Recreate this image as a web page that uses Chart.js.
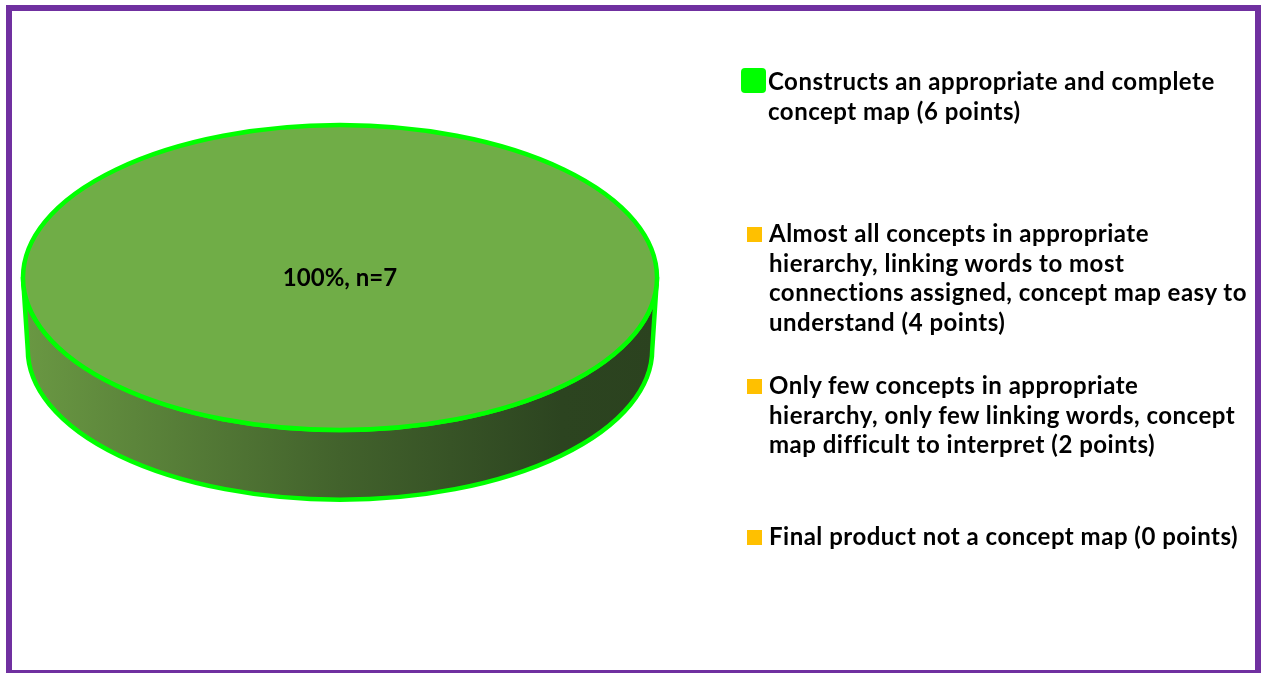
<!DOCTYPE html>
<html>
<head>
<meta charset="utf-8">
<script src="https://cdn.jsdelivr.net/npm/chart.js@4.4.1/dist/chart.umd.min.js"></script>
<style>
    html, body { margin: 0; padding: 0; background: #ffffff; }
    #wrap { position: relative; width: 1261px; height: 673px; overflow: hidden; }
    #chartBox { position: absolute; left: 0; top: 0; width: 1261px; height: 673px; }
    #frame {
        position: absolute; left: 6px; top: 5px; width: 1255px; height: 671px;
        box-sizing: border-box; border: 6px solid #7030A0; pointer-events: none;
    }
    #pieLegend { position: absolute; left: 0; top: 0; }
    .legend-item {
        position: absolute; left: 769px; width: 490px;
        font-family: Lato, sans-serif; font-weight: 700; font-size: 24px;
        letter-spacing: 0.5px;
        line-height: 29.5px; color: #000000; white-space: nowrap;
    }
    .legend-box { position: absolute; left: -22px; top: 9px; width: 15px; height: 15px; }
    .legend-item.selected .legend-box { left: -27px; top: 2px; width: 25px; height: 25px; border-radius: 4px; }
    .legend-item:nth-child(1) { top: 66px; left: 768px; }
    .legend-item:nth-child(2) { top: 218px; }
    .legend-item:nth-child(3) { top: 370px; }
    .legend-item:nth-child(4) { top: 521px; }
</style>
</head>
<body>
<div id="wrap">
    <div id="chartBox"><canvas id="conceptMapChart"></canvas></div>
    <div id="pieLegend"></div>
    <div id="frame"></div>
</div>
<script>
// Rubric categories (legend text, one entry per line)
const categories = [
    ['Constructs an appropriate and complete', 'concept map (6 points)'],
    ['Almost all concepts in appropriate', 'hierarchy, linking words to most', 'connections assigned, concept map easy to', 'understand (4 points)'],
    ['Only few concepts in appropriate', 'hierarchy, only few linking words, concept', 'map difficult to interpret (2 points)'],
    ['Final product not a concept map (0 points)']
];
// Number of students per category
const counts = [7, 0, 0, 0];

const sliceColors = ['#70AD47', '#FFC000', '#FFC000', '#FFC000'];
const legendColors = ['#00FF00', '#FFC000', '#FFC000', '#FFC000'];

// Draws the pie as a tilted 3D disc: side wall first, then the library's arcs squashed vertically
const pie3d = {
    id: 'pie3d',
    beforeDatasetsDraw(chart, args, opts) {
        const ctx = chart.ctx;
        const meta = chart.getDatasetMeta(0);
        meta.data.forEach((arc) => {
            const p = arc.getProps(['x', 'y', 'outerRadius', 'startAngle', 'endAngle', 'circumference'], true);
            if (p.circumference <= 0) return;
            const cyTop = p.y + opts.offsetY;
            const ry = p.outerRadius * opts.tilt;
            const rxB = p.outerRadius * opts.perspective;
            const ryB = ry * opts.perspective;
            // visible part of the wall is the front half (0..PI)
            let a0 = 0, a1 = Math.PI;
            if (p.circumference < Math.PI * 2 - 1e-6) {
                let s = p.startAngle % (Math.PI * 2);
                if (s < 0) s += Math.PI * 2;
                const e = s + p.circumference;
                a0 = Math.max(s, 0);
                a1 = Math.min(e, Math.PI);
                if (a1 <= a0) return;
            }
            const grad = ctx.createLinearGradient(p.x - p.outerRadius, 0, p.x + p.outerRadius, 0);
            grad.addColorStop(0, '#6A9843');
            grad.addColorStop(0.5, '#42622C');
            grad.addColorStop(0.85, '#2C4420');
            grad.addColorStop(1, '#2B421F');
            ctx.save();
            ctx.beginPath();
            ctx.ellipse(p.x, cyTop, p.outerRadius, ry, 0, a0, a1, false);
            ctx.ellipse(p.x, cyTop + opts.depth, rxB, ryB, 0, a1, a0, true);
            ctx.closePath();
            ctx.fillStyle = grad;
            ctx.fill();
            ctx.lineWidth = opts.lineWidth;
            ctx.strokeStyle = opts.lineColor;
            ctx.lineJoin = 'round';
            ctx.stroke();
            ctx.restore();
        });
        // squash the top face drawn by the library
        const first = meta.data[0];
        ctx.save();
        ctx.translate(0, first.y + opts.offsetY);
        ctx.scale(1, opts.tilt);
        ctx.translate(0, -first.y);
    },
    afterDatasetsDraw(chart, args, opts) {
        const ctx = chart.ctx;
        ctx.restore();
        const meta = chart.getDatasetMeta(0);
        const data = chart.data.datasets[0].data;
        const total = data.reduce((a, b) => a + b, 0);
        meta.data.forEach((arc, i) => {
            const p = arc.getProps(['x', 'y', 'outerRadius', 'startAngle', 'endAngle', 'circumference'], true);
            if (p.circumference <= 0) return;
            const cyTop = p.y + opts.offsetY;
            const ry = p.outerRadius * opts.tilt;
            const full = p.circumference >= Math.PI * 2 - 1e-6;
            // outline of the top face
            ctx.save();
            ctx.beginPath();
            if (full) {
                ctx.ellipse(p.x, cyTop, p.outerRadius, ry, 0, 0, Math.PI * 2);
            } else {
                ctx.moveTo(p.x, cyTop);
                ctx.ellipse(p.x, cyTop, p.outerRadius, ry, 0, p.startAngle, p.endAngle);
                ctx.closePath();
            }
            ctx.lineWidth = opts.lineWidth;
            ctx.strokeStyle = opts.lineColor;
            ctx.stroke();

            // data label: percent and count
            let lx = p.x, ly = cyTop;
            if (!full) {
                const mid = (p.startAngle + p.endAngle) / 2;
                lx = p.x + Math.cos(mid) * p.outerRadius * 0.5;
                ly = cyTop + Math.sin(mid) * ry * 0.5;
            }
            const pct = Math.round(data[i] / total * 100);
            ctx.font = 'bold 24px Lato, sans-serif';
            ctx.fillStyle = '#000000';
            ctx.textAlign = 'center';
            ctx.textBaseline = 'alphabetic';
            ctx.fillText(pct + '%, n=' + data[i], lx, ly + 8);
            ctx.restore();
        });
    }
};

function generateLegend(chart, legendContainerId) {
    const legendContainer = document.getElementById(legendContainerId);
    legendContainer.innerHTML = '';
    chart.data.labels.forEach((label, i) => {
        const item = document.createElement('div');
        item.className = 'legend-item' + (i === 0 ? ' selected' : '');
        const box = document.createElement('span');
        box.className = 'legend-box';
        box.style.backgroundColor = legendColors[i];
        item.appendChild(box);
        label.forEach((line, j) => {
            if (j > 0) item.appendChild(document.createElement('br'));
            item.appendChild(document.createTextNode(line));
        });
        legendContainer.appendChild(item);
    });
}

const ctx = document.getElementById('conceptMapChart').getContext('2d');
const chart = new Chart(ctx, {
    type: 'pie',
    data: {
        labels: categories,
        datasets: [{
            data: counts,
            backgroundColor: sliceColors,
            borderWidth: 0
        }]
    },
    options: {
        responsive: true,
        maintainAspectRatio: false,
        animation: false,
        layout: { padding: { left: 23, right: 604, top: 0, bottom: 0 } },
        plugins: {
            legend: { display: false },
            tooltip: { enabled: false },
            pie3d: { tilt: 0.481, depth: 72, perspective: 0.985, offsetY: -59, lineWidth: 4.5, lineColor: '#00FF00' }
        }
    },
    plugins: [pie3d]
});

generateLegend(chart, 'pieLegend');
</script>
</body>
</html>
